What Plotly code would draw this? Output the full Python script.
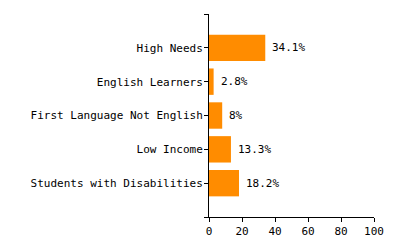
import plotly.graph_objects as go

categories = ["High Needs", "English Learners", "First Language Not English", "Low Income", "Students with Disabilities"]
values = [34.1, 2.8, 8, 13.3, 18.2]
x_ticks = [0, 20, 40, 60, 80, 100]

FONT = dict(family="DejaVu Sans Mono", size=11, color="#000000")
idx = list(range(len(categories)))

fig = go.Figure()
fig.add_trace(go.Bar(
    x=values, y=idx, orientation="h",
    marker=dict(color="#FF8C00", line=dict(width=0)),
    width=0.78, hoverinfo="skip",
))
for v, i in zip(values, idx):
    fig.add_annotation(x=v, y=i, text=f"{v:g}%", showarrow=False,
                       xanchor="left", yanchor="middle", xshift=5, font=FONT)

fig.update_layout(
    width=400, height=250,
    margin=dict(l=209, r=26, t=14, b=29),
    paper_bgcolor="white", plot_bgcolor="white",
    showlegend=False, font=FONT,
)
fig.update_xaxes(range=[0, 100], tickvals=x_ticks, ticktext=[str(t) for t in x_ticks],
                 showgrid=False, zeroline=False, showline=True, linecolor="black", linewidth=1,
                 ticks="outside", ticklen=4, tickcolor="black", tickwidth=1, tickfont=FONT,
                 fixedrange=True)
fig.update_yaxes(range=[len(categories), -1],
                 tickvals=[-1] + idx + [len(categories)],
                 ticktext=[""] + categories + [""],
                 showgrid=False, zeroline=False, showline=True, linecolor="black", linewidth=1,
                 ticks="outside", ticklen=4, tickcolor="black", tickwidth=1, tickfont=FONT,
                 ticklabelstandoff=-1,
                 fixedrange=True)

fig.write_html("out.html", config={"displayModeBar": False})
